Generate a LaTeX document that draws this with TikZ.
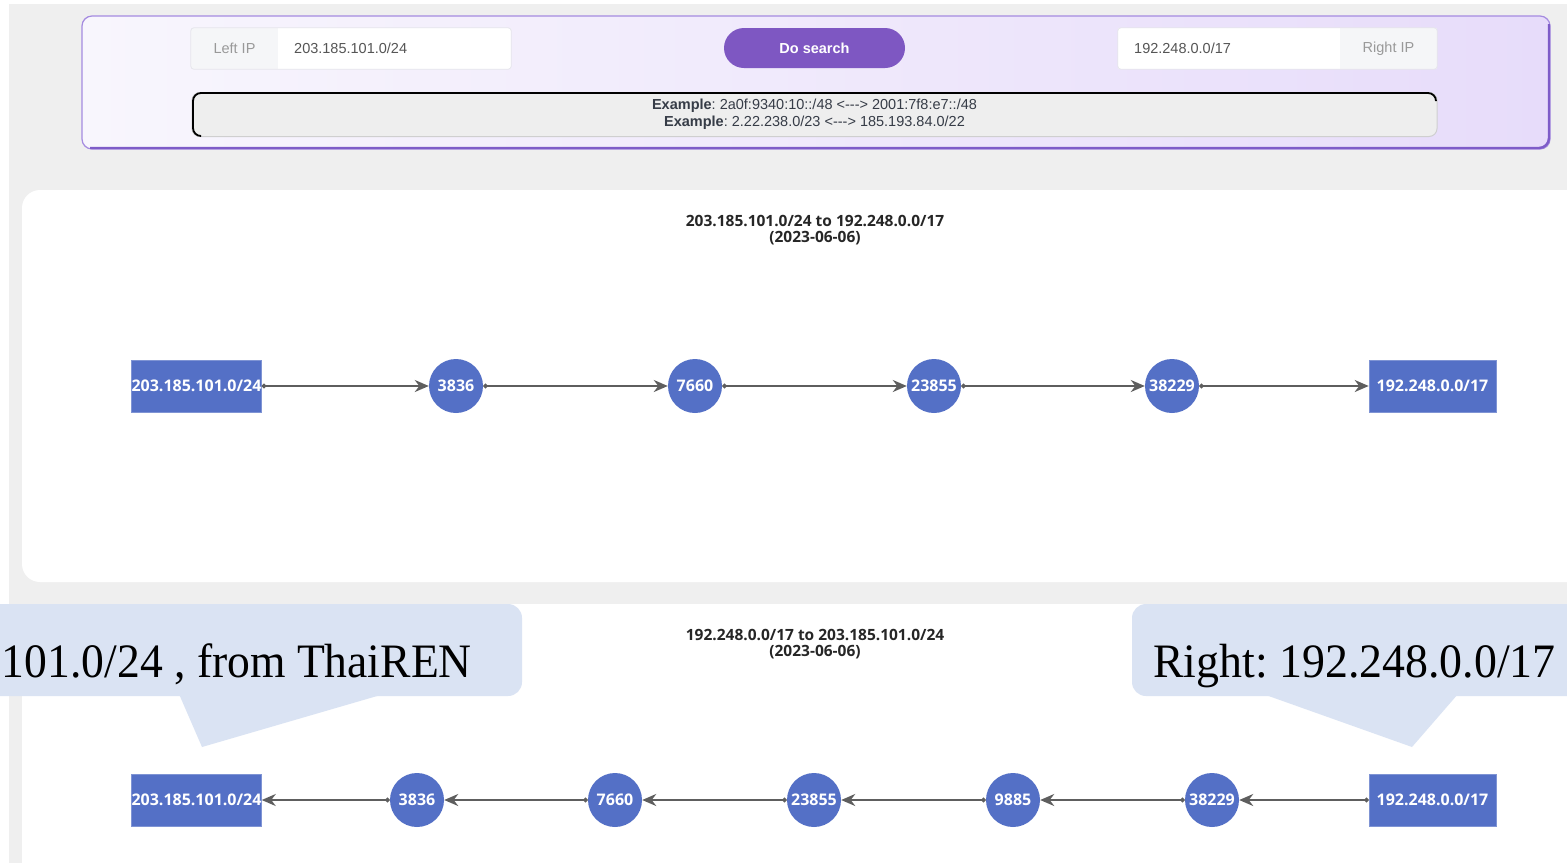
\documentclass[tikz,border=0pt]{standalone}
\usepackage{fontspec}
\setmainfont{Liberation Serif}
\newfontfamily\uifont{Liberation Sans}
\newfontfamily\chartfont{Open Sans}
\usetikzlibrary{arrows.meta}
\frenchspacing

\definecolor{pagegray}{HTML}{EFEFEF}
\definecolor{panelL}{HTML}{F8F6FD}
\definecolor{panelR}{HTML}{E7DCFA}
\definecolor{panelEdge}{HTML}{A58BE0}
\definecolor{panelDeep}{HTML}{7E5CC8}
\definecolor{btnPurple}{HTML}{7E57C2}
\definecolor{addonFill}{HTML}{F5F6F8}
\definecolor{addonTxt}{HTML}{999999}
\definecolor{fieldEdge}{HTML}{E6E6EC}
\definecolor{inputTxt}{HTML}{555555}
\definecolor{exFill}{HTML}{EEEEEE}
\definecolor{exEdge}{HTML}{CFCFCF}
\definecolor{exTxt}{HTML}{363C47}
\definecolor{nodeBlue}{HTML}{5470C6}
\definecolor{edgeGray}{HTML}{5E5E5E}
\definecolor{calloutFill}{HTML}{DAE3F3}

\tikzset{
  uitext/.style={inner sep=0pt, font=\uifont\fontsize{14.5}{17}\selectfont},
  addonbox/.style={rectangle, fill=addonFill, minimum height=41pt, inner sep=0pt,
    text=addonTxt, font=\uifont\fontsize{14.5}{17}\selectfont},
  fieldbox/.style={rectangle, fill=white, minimum height=41pt, inner sep=0pt},
  searchbtn/.style={rectangle, rounded corners=20pt, fill=btnPurple, minimum width=181pt,
    minimum height=40pt, text=white, font=\uifont\bfseries\fontsize{14.5}{17}\selectfont},
  exbox/.style={rectangle, rounded corners=8pt, fill=exFill, draw=exEdge, line width=1pt,
    minimum width=1245pt, minimum height=44pt, inner sep=0pt, align=center, text=exTxt,
    font=\uifont\fontsize{14.5}{17}\selectfont},
  charttitle/.style={align=center, inner sep=0pt, text=black!85,
    font=\chartfont\bfseries\fontsize{15.5}{16}\selectfont},
  asbox/.style={rectangle, fill=nodeBlue, draw=nodeBlue!75!white, line width=0.6pt,
    minimum width=127pt, minimum height=52pt, inner sep=0pt, text=white,
    font=\chartfont\bfseries\fontsize{16}{18}\selectfont},
  asnum/.style={circle, fill=nodeBlue, minimum size=54pt, inner sep=0pt, text=white,
    font=\chartfont\bfseries\fontsize{16}{18}\selectfont},
  link/.style={draw=edgeGray, line width=2pt,
    {Circle[length=4.5pt]}-{Stealth[length=14pt,width=12pt,inset=4.5pt]}},
  calloutshape/.style={fill=calloutFill},
  callouttext/.style={inner sep=0pt, text=black, font=\fontsize{48}{56}\selectfont},
}

\begin{document}
\begin{tikzpicture}[x=1pt,y=-1pt]
\useasboundingbox (0,0) rectangle (1567,863);

% page background
\fill[white] (0,0) rectangle (1567,863);
\fill[pagegray] (9,4) rectangle (1567,863);

% ---------- search panel ----------
\shade[left color=panelL, right color=panelR, rounded corners=10pt] (82,16) rectangle (1550,149);
\draw[panelEdge, line width=1.2pt, rounded corners=10pt] (82,16) rectangle (1550,149);
\draw[panelDeep, line width=2.4pt, rounded corners=10pt] (90,148) -- (1549,148) -- (1549,24);

% left address field
\node[addonbox, minimum width=87pt] (leftaddon) at (234.5,48.5) {Left IP};
\node[fieldbox, minimum width=233pt] (leftfield) at (394.5,48.5) {};
\draw[fieldEdge, line width=0.8pt, rounded corners=3pt] (leftaddon.north west) rectangle (leftfield.south east);
\node[uitext, anchor=west, text=inputTxt] (leftval) at (294,48.5) {203.185.101.0/24};

% search button
\node[searchbtn] (search) at (814.5,48) {Do search};

% right address field
\node[fieldbox, minimum width=222pt] (rightfield) at (1229,48.5) {};
\node[addonbox, minimum width=97pt] (rightaddon) at (1388.5,48.5) {Right IP};
\draw[fieldEdge, line width=0.8pt, rounded corners=3pt] (rightfield.north west) rectangle (rightaddon.south east);
\node[uitext, anchor=west, text=inputTxt] (rightval) at (1134,48.5) {192.248.0.0/17};

% examples box with inset edge on top and left
\node[exbox] (examples) at (814.5,114.5)
  {\textbf{Example}: 2a0f:9340:10::/48 <---> 2001:7f8:e7::/48\\
   \textbf{Example}: 2.22.238.0/23 <---> 185.193.84.0/22};
\draw[black, line width=1.8pt, rounded corners=8pt]
  (200,136) -- (193,136) -- (193,93) -- (1436,93) -- (1436,100);

% ---------- chart panels ----------
\fill[white, rounded corners=18pt] (22,190) rectangle (1600,582);
\fill[white, rounded corners=18pt] (22,604) rectangle (1600,900);

% forward path
\node[charttitle] (title1) at (815,230) {203.185.101.0/24 to 192.248.0.0/17\\(2023-06-06)};
\node[asbox] (a1) at (196.5,386) {203.185.101.0/24};
\node[asnum] (a2) at (456,386) {3836};
\node[asnum] (a3) at (695,386) {7660};
\node[asnum] (a4) at (934,386) {23855};
\node[asnum] (a5) at (1172,386) {38229};
\node[asbox] (a6) at (1432.5,386) {192.248.0.0/17};
\draw[link] (a1) -- (a2);
\draw[link] (a2) -- (a3);
\draw[link] (a3) -- (a4);
\draw[link] (a4) -- (a5);
\draw[link] (a5) -- (a6);

% return path
\node[charttitle] (title2) at (815,644) {192.248.0.0/17 to 203.185.101.0/24\\(2023-06-06)};
\node[asbox] (b1) at (196.5,800) {203.185.101.0/24};
\node[asnum] (b2) at (417,800) {3836};
\node[asnum] (b3) at (615,800) {7660};
\node[asnum] (b4) at (814,800) {23855};
\node[asnum] (b5) at (1013,800) {9885};
\node[asnum] (b6) at (1212,800) {38229};
\node[asbox] (b7) at (1432.5,800) {192.248.0.0/17};
\draw[link] (b7) -- (b6);
\draw[link] (b6) -- (b5);
\draw[link] (b5) -- (b4);
\draw[link] (b4) -- (b3);
\draw[link] (b3) -- (b2);
\draw[link] (b2) -- (b1);

% ---------- callouts ----------
\fill[calloutshape, rounded corners=14pt] (-30,604) rectangle (522,696);
\fill[calloutshape] (179,694) -- (202,747) -- (384,694) -- cycle;
\node[callouttext, anchor=base east] (lefttag) at (472,677)
  {\scalebox{0.95}[1]{101.0/24 , from ThaiREN}};

\fill[calloutshape, rounded corners=14pt] (1132,604) rectangle (1600,696);
\fill[calloutshape] (1263,694) -- (1412,747) -- (1458,694) -- cycle;
\node[callouttext, anchor=base west] (righttag) at (1153,677)
  {\scalebox{0.955}[1]{Right: 192.248.0.0/17}};
\end{tikzpicture}
\end{document}
